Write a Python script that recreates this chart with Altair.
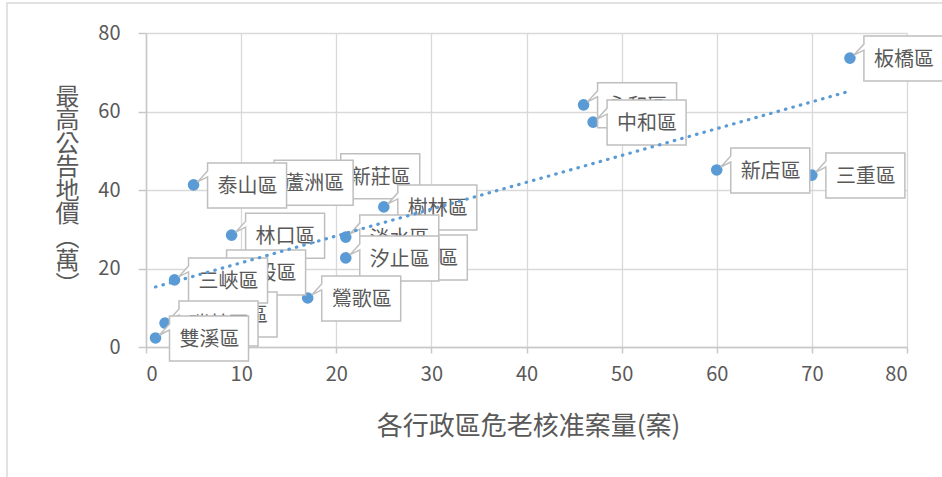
import altair as alt
import pandas as pd

# ---- data (drawing order = label stacking order) ----
districts = ["永和區", "中和區", "三重區", "新店區", "板橋區", "新莊區", "蘆洲區", "泰山區",
             "林口區", "五股區", "八里區", "三峽區", "瑞芳區", "雙溪區", "樹林區", "土城區",
             "淡水區", "汐止區", "鶯歌區"]
cases = [46, 47, 70, 60, 74, 19, 12, 5, 9, 7, 4, 3, 2, 1, 25, 24, 21, 21, 17]
prices = [61.7, 57.3, 43.8, 45.1, 73.6, 43.6, 42.0, 41.3, 28.5, 19.1, 8.4, 17.1, 6.1, 2.3,
          35.7, 22.9, 28.0, 22.7, 12.5]

# linear trendline end points as drawn in the reference
trend_cases = [1, 74]
trend_prices = [15.3, 65.2]

x_ticks = [0, 10, 20, 30, 40, 50, 60, 70, 80]
y_ticks = [0, 20, 40, 60, 80]

x_title = "各行政區危老核准案量(案)"
y_title = ["最", "高", "公", "告", "地", "價", "︵", "萬", "︶"]

df = pd.DataFrame({"district": districts, "cases": cases, "price": prices})
trend_df = pd.DataFrame({"cases": trend_cases, "price": trend_prices})

FONT = "Noto Sans CJK TC"
TXT = "#595959"
BLUE = "#5B9BD5"

x_axis = alt.Axis(values=x_ticks, title=x_title, grid=True, gridColor="#d9d9d9", gridWidth=1.3,
                  domainColor="#c8c8c8", domainWidth=1.5, tickColor="#c8c8c8", tickWidth=1.5,
                  tickSize=6, labelFont=FONT, labelFontSize=20, labelColor=TXT, labelPadding=11,
                  titleFont=FONT, titleFontSize=26, titleFontWeight="normal", titleColor=TXT,
                  titleBaseline="alphabetic", titleY=87, titleX=382, titleAlign="center")
y_axis = alt.Axis(values=y_ticks, title=y_title, grid=True, gridColor="#d9d9d9", gridWidth=1.3,
                  domainColor="#c8c8c8", domainWidth=1.5, tickColor="#c8c8c8", tickWidth=1.5,
                  tickSize=8, labelFont=FONT, labelFontSize=20, labelColor=TXT, labelPadding=18,
                  titleFont=FONT, titleFontSize=24, titleFontWeight="normal", titleColor=TXT,
                  titleAngle=0, titleAlign="center", titleBaseline="top", titleX=-79, titleY=52,
                  titleLineHeight=23.5)

X = alt.X("cases:Q", scale=alt.Scale(domain=[0, 80], nice=False), axis=x_axis)
Y = alt.Y("price:Q", scale=alt.Scale(domain=[0, 80], nice=False), axis=y_axis)

border = alt.Chart(pd.DataFrame({"a": [0]})).mark_rect(
    fillOpacity=0, stroke="#d9d9d9", strokeWidth=1.5
).encode(x=alt.value(-139), x2=alt.value(900), y=alt.value(-30), y2=alt.value(520))

base = alt.Chart(df)
points = base.mark_circle(size=135, color=BLUE, opacity=1).encode(x=X, y=Y)

callout_path = "M14,-22H93V23H14V-8L4,-3L14,-14Z"

layers = [border, points]
for name in districts:
    sub = base.transform_filter(alt.FieldEqualPredicate(field="district", equal=name))
    box = sub.mark_point(shape=callout_path, size=4, filled=True, fill="white",
                         stroke="#bfbfbf", strokeWidth=1.5, opacity=1).encode(x=X, y=Y)
    label = sub.mark_text(dx=54, dy=2, align="center", baseline="middle", font=FONT,
                          fontSize=20, color=TXT).encode(x=X, y=Y, text="district:N")
    layers += [box, label]

trend = alt.Chart(trend_df).mark_line(
    color=BLUE, strokeWidth=3.2, strokeDash=[0.5, 7.2], strokeCap="round"
).encode(x=X, y=Y)
layers.append(trend)

chart = alt.layer(*layers).properties(
    width=761, height=314,
    autosize=alt.AutoSizeParams(type="none"),
    padding={"left": 146, "top": 33, "right": 35, "bottom": 130},
    background="white",
).configure_view(stroke=None)

chart.save("out.html", embed_options={"renderer": "svg", "actions": False})
